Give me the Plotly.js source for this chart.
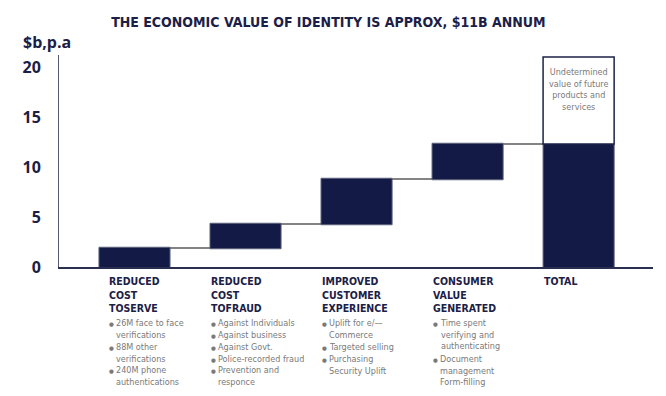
<!DOCTYPE html>
<html>
<head>
<meta charset="utf-8">
<script src="https://cdn.plot.ly/plotly-3.0.1.min.js"></script>
<style>html,body{margin:0;padding:0;background:#fff;}#chart{width:666px;height:396px;}</style>
</head>
<body>
<div id="chart"></div>
<script>
// ---- data ----
const categories = ['Reduced cost to serve', 'Reduced cost to fraud', 'Improved customer experience', 'Consumer value generated', 'Total'];
const increments = [1.9, 2.4, 4.5, 3.5];
const futureValue = 8.7;   // undetermined value stacked on top of total
const futureLabel = ['Undetermined', 'value of future', 'products and', 'services'];
const headerLines = [
  ['REDUCED', 'COST', 'TOSERVE'],
  ['REDUCED', 'COST', 'TOFRAUD'],
  ['IMPROVED', 'CUSTOMER', 'EXPERIENCE'],
  ['CONSUMER', 'VALUE', 'GENERATED'],
  ['TOTAL']
];
const bulletItems = [
  [['26M face to face', 'verifications'], ['88M other', 'verifications'], ['240M phone', 'authentications']],
  [['Against Individuals'], ['Against business'], ['Against Govt.'], ['Police-recorded fraud'], ['Prevention and', 'responce']],
  [['Uplift for e/\u2014', 'Commerce'], ['Targeted selling'], ['Purchasing', 'Security Uplift']],
  [['Time spent', 'verifying and', 'authenticating'], ['Document', 'management', 'Form-filling']],
  []
];
const yTicks = [0, 5, 10, 15, 20];
const titleText = 'THE ECONOMIC VALUE OF IDENTITY IS APPROX, $11B ANNUM';
const yUnit = '$b,p.a';

// ---- styles ----
const NAVY = '#131a45';
const TEXTNAVY = '#1c2046';
const GRAY = '#7a7a7a';
const COND = 'Liberation Sans Narrow, DejaVu Sans Condensed, Arial Narrow, sans-serif';
const W = 666, H = 396;
const M = {l: 59, r: 13, t: 55, b: 129};
const plotH = H - M.t - M.b;
const pyToPaper = py => 1 - (py - M.t) / plotH;
const BULLET_FS = 9;
const LINE_H = BULLET_FS * 1.3;

const total = increments.reduce((a, b) => a + b, 0);

const traces = [
  {
    type: 'waterfall',
    x: categories,
    y: increments.concat([0]),
    measure: increments.map(() => 'relative').concat(['total']),
    width: 0.64,
    textinfo: 'none',
    hoverinfo: 'none',
    increasing: {marker: {color: NAVY, line: {color: '#5a5f78', width: 1}}},
    totals: {marker: {color: NAVY, line: {color: '#5a5f78', width: 1}}},
    connector: {mode: 'between', line: {color: '#5a5a5a', width: 1.5}}
  },
  {
    type: 'bar',
    x: [categories[4]],
    y: [futureValue],
    base: [total],
    width: 0.64,
    hoverinfo: 'none',
    marker: {color: '#ffffff', line: {color: '#1d2247', width: 1.5}}
  }
];

const annotations = [];
// y unit label
annotations.push({xref: 'paper', yref: 'paper', x: -38 / (W - M.l - M.r), y: pyToPaper(42), xanchor: 'left', yanchor: 'middle',
  text: '<b>' + yUnit + '</b>', showarrow: false, font: {family: 'Open Sans, sans-serif', size: 16, color: TEXTNAVY}});
// future label inside white box
annotations.push({xref: 'x', yref: 'paper', x: 4, y: pyToPaper(66), xanchor: 'center', yanchor: 'top',
  text: futureLabel.join('<br>'), showarrow: false, align: 'center', borderpad: 0,
  font: {family: COND, size: 9, color: GRAY}});
// headers and bullets
const colShift = [-26, -35, -35, -35, -35];
categories.forEach((c, i) => {
  annotations.push({xref: 'x', yref: 'paper', x: i, xshift: colShift[i] - 1, y: pyToPaper(274), borderpad: 0,
    xanchor: 'left', yanchor: 'top', align: 'left', text: headerLines[i].map(t => '<b>' + t + '</b>').join('<br>'), showarrow: false,
    font: {family: COND, size: 10.5, color: TEXTNAVY}});
  let line = 0;
  bulletItems[i].forEach(item => {
    const topPy = 323.3 - LINE_H / 2 + line * LINE_H;
    annotations.push({xref: 'x', yref: 'paper', x: i, xshift: colShift[i] - 1, y: pyToPaper(topPy), borderpad: 0,
      xanchor: 'left', yanchor: 'top', text: '\u25CF', showarrow: false,
      font: {family: 'DejaVu Sans, sans-serif', size: 5.5, color: GRAY}, height: LINE_H, valign: 'middle'});
    annotations.push({xref: 'x', yref: 'paper', x: i, xshift: colShift[i] + 6, y: pyToPaper(topPy), borderpad: 0,
      xanchor: 'left', yanchor: 'top', align: 'left', text: item.join('<br>'), showarrow: false,
      font: {family: COND, size: BULLET_FS, color: GRAY}});
    line += item.length;
  });
});

const layout = {
  width: W, height: H,
  margin: M,
  paper_bgcolor: '#ffffff', plot_bgcolor: '#ffffff',
  showlegend: false,
  title: {text: '<b>' + titleText + '</b>', x: 0.493, xref: 'container', xanchor: 'center', y: 1 - 22 / H, yref: 'container', yanchor: 'middle',
    font: {family: COND, size: 14, color: TEXTNAVY}},
  xaxis: {type: 'category', range: [-0.68, 4.67], showticklabels: false, ticks: '', showgrid: false, zeroline: false,
    showline: true, linecolor: '#2a2f50', linewidth: 2, fixedrange: true},
  yaxis: {range: [0, 21.2], tickvals: yTicks, ticktext: yTicks.map(String), ticks: '', showgrid: false, zeroline: false,
    showline: true, linecolor: '#555a70', linewidth: 1, ticklabelstandoff: 14,
    tickfont: {family: 'Open Sans, sans-serif', size: 16, color: TEXTNAVY, weight: 700}, fixedrange: true},
  annotations: annotations,
  bargap: 0.36
};

Plotly.newPlot('chart', traces, layout, {displayModeBar: false, staticPlot: true});
</script>
</body>
</html>
